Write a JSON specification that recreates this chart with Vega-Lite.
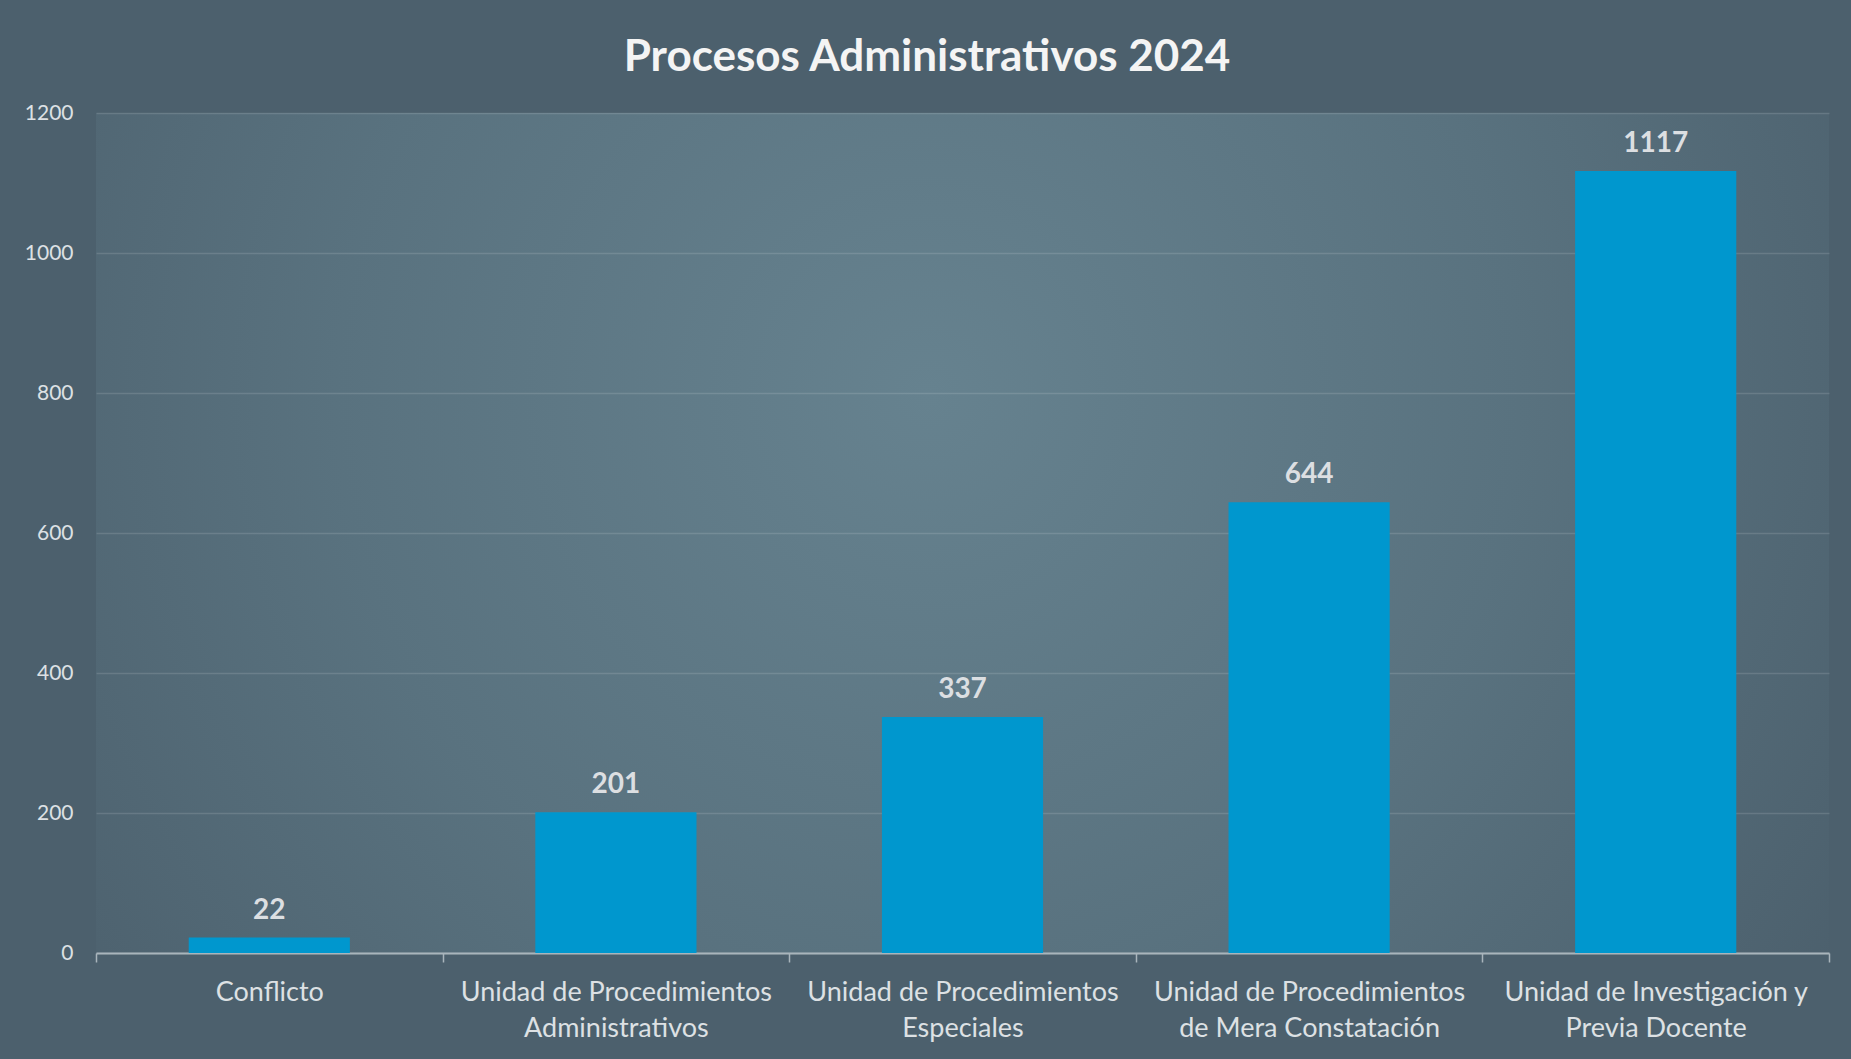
{
  "$schema": "https://vega.github.io/schema/vega-lite/v6.json",
  "width": 1733,
  "height": 840,
  "autosize": {"type": "none"},
  "padding": {"left": 96, "top": 113, "right": 22, "bottom": 106},
  "background": "#4c606d",
  "title": {
    "text": "Procesos Administrativos 2024",
    "font": "Lato",
    "fontSize": 44,
    "fontWeight": "bold",
    "color": "#f4f4f4",
    "anchor": "middle",
    "frame": "bounds",
    "offset": 22
  },
  "data": {
    "values": [
      {"categoria": "Conflicto", "procesos": 22},
      {"categoria": "Unidad de Procedimientos Administrativos", "procesos": 201},
      {"categoria": "Unidad de Procedimientos Especiales", "procesos": 337},
      {"categoria": "Unidad de Procedimientos de Mera Constatación", "procesos": 644},
      {"categoria": "Unidad de Investigación y Previa Docente", "procesos": 1117}
    ]
  },
  "encoding": {
    "x": {
      "field": "categoria",
      "type": "nominal",
      "sort": null,
      "scale": {"paddingInner": 0, "paddingOuter": 0},
      "axis": {
        "title": null,
        "labelAngle": 0,
        "labelFont": "Lato",
        "labelFontSize": 27,
        "labelColor": "#dde1e4",
        "labelLineHeight": 36,
        "labelPadding": 17,
        "labelLimit": 400,
        "tickBand": "extent",
        "tickSize": 9,
        "tickWidth": 1.5,
        "tickColor": "#a9b5bc",
        "domainColor": "#a9b5bc",
        "domainWidth": 2,
        "grid": false,
        "labelExpr": "datum.value == 'Unidad de Procedimientos Administrativos' ? ['Unidad de Procedimientos', 'Administrativos'] : datum.value == 'Unidad de Procedimientos Especiales' ? ['Unidad de Procedimientos', 'Especiales'] : datum.value == 'Unidad de Procedimientos de Mera Constatación' ? ['Unidad de Procedimientos', 'de Mera Constatación'] : datum.value == 'Unidad de Investigación y Previa Docente' ? ['Unidad de Investigación y', 'Previa Docente'] : datum.value"
      }
    },
    "y": {
      "field": "procesos",
      "type": "quantitative",
      "scale": {"domain": [0, 1200], "nice": false},
      "axis": {
        "title": null,
        "values": [0, 200, 400, 600, 800, 1000, 1200],
        "format": "d",
        "labelFont": "Lato",
        "labelFontSize": 21,
        "labelColor": "#dde1e4",
        "labelPadding": 23,
        "ticks": false,
        "tickSize": 0,
        "domain": false,
        "grid": true,
        "gridColor": "#ffffff",
        "gridOpacity": 0.13,
        "gridWidth": 1.5
      }
    }
  },
  "layer": [
    {
      "mark": {"type": "bar", "color": "#0097ce", "width": {"band": 0.465}}
    },
    {
      "mark": {
        "type": "text",
        "font": "Lato",
        "fontSize": 28,
        "fontWeight": "bold",
        "color": "#dcdfe2",
        "baseline": "alphabetic",
        "dy": -19
      },
      "encoding": {"text": {"field": "procesos", "type": "quantitative", "format": "d"}}
    }
  ],
  "config": {
    "view": {
      "stroke": null,
      "fill": {
        "gradient": "radial",
        "x1": 0.48, "y1": 0.42, "r1": 0,
        "x2": 0.48, "y2": 0.42, "r2": 0.62,
        "stops": [
          {"offset": 0, "color": "#66828f"},
          {"offset": 0.55, "color": "#59727f"},
          {"offset": 1, "color": "#4c606d"}
        ]
      }
    }
  }
}
